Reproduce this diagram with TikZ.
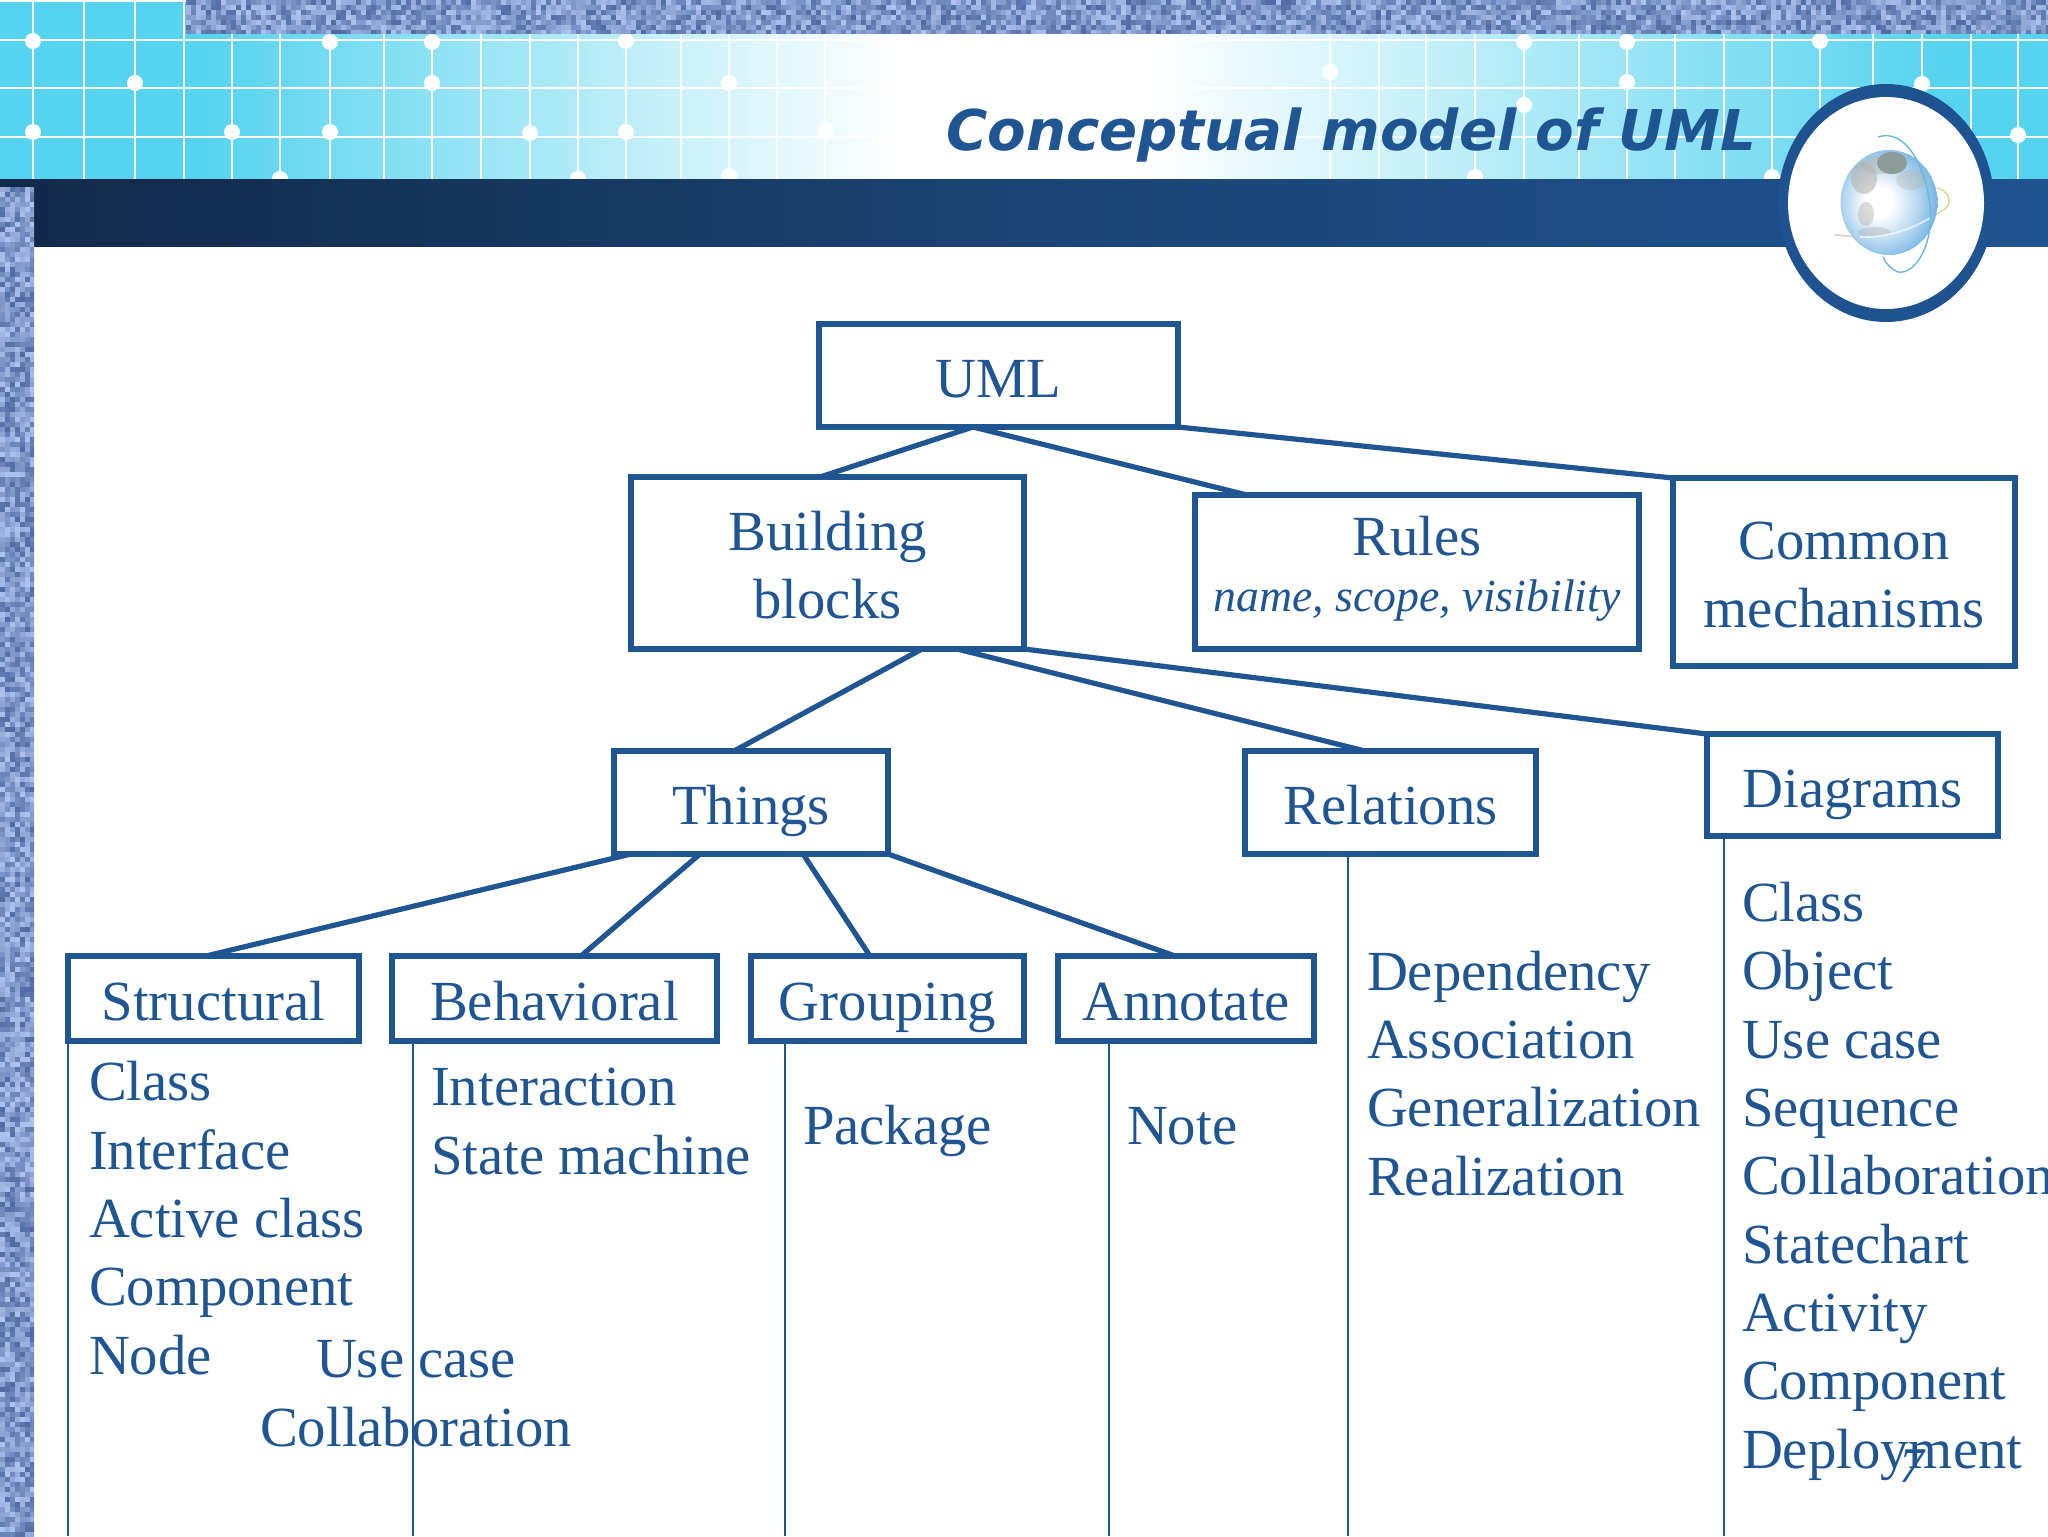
\documentclass[tikz,border=0pt]{standalone}
\usepackage{fontspec}
\setmainfont{Liberation Serif}
\newfontfamily\titlefont{DejaVu Sans}
\usetikzlibrary{calc}
\definecolor{blu}{HTML}{1F5592}
\definecolor{cy}{HTML}{55D3EF}
\definecolor{denim}{HTML}{7B97D5}
\definecolor{denimd}{HTML}{24417F}
\definecolor{deniml}{HTML}{B4C9F5}
\definecolor{barl}{HTML}{12294A}
\definecolor{barm}{HTML}{1A4474}
\definecolor{barr}{HTML}{1F5290}
\definecolor{sea}{HTML}{4F9FDC}
\definecolor{rim}{HTML}{66747E}
\definecolor{land}{HTML}{B5B0A8}
\definecolor{pole}{HTML}{8C9C98}
\definecolor{orb}{HTML}{6DB7D8}
\pgfdeclareradialshading{earth}{\pgfpoint{-6bp}{0bp}}{color(0bp)=(white); color(7bp)=(white); color(20bp)=(sea!45!white); color(34bp)=(sea); color(47bp)=(sea!70!rim); color(54bp)=(rim); color(60bp)=(rim)}
\tikzset{
  body/.style={font=\fontsize{28.35}{34.15}\selectfont,text=blu,inner sep=0pt,outer sep=0pt},
  box/.style={body,draw=blu,line width=2.6pt,align=center},
  one/.style={text height=25pt,text depth=2.6pt},
  lst/.style={body,align=left,anchor=base west},
  link/.style={draw=blu,line width=2.6pt},
  thin/.style={draw=blu,line width=1pt},
  grid/.style={draw=white,line width=.8pt},
  gridh/.style={draw=white,line width=1.3pt},
  dot/.style={fill=white},
}
\newcommand\bx[6]{%
  \pgfmathsetmacro\bxw{(#4-#2)*0.5}%
  \pgfmathsetmacro\bxh{(#5-#3)*0.5}%
  \node[box,minimum width=\bxw pt,minimum height=\bxh pt,#6] (#1) at ({(#2+#4)/2},{(#3+#5)/2})}
\begin{document}
\begin{tikzpicture}[x=0.5pt,y=-0.5pt]
\useasboundingbox (0,0) rectangle (2048,1536);
\fill[white] (0,0) rectangle (2048,1536);
% gradient panel
\fill[cy] (0,0) rectangle (200,180);
\shade[left color=cy,right color=white] (200,0) rectangle (900,180);
\shade[left color=white,right color=cy] (1150,34) rectangle (1950,180);
\fill[cy] (1950,34) rectangle (2048,180);
% grid
\foreach \gx in {33,84,135,184,232,280,330,384,432,481,530,578,626,681,729,777,825,1330,1379,1426,1475,1524,1579,1627,1675,1724,1772,1820,1873,1922,1971,2018}
  \draw[grid] (\gx,0) -- (\gx,179);
\foreach \gy in {40,88,137} \draw[gridh] (0,\gy) -- (2048,\gy);
\draw[gridh] (0,1) -- (186,1);
\foreach \dx/\dy in {33/41,330/42,432/42,626/41,135/83,432/83,729/83,33/132,232/132,330/132,530/133,626/132,825/131,280/179,578/179,729/176,1330/72,1524/42,1627/42,1820/41,1627/82,1524/105,1922/84,2018/135,1475/177,1772/177}
  \fill[dot] (\dx,\dy) circle[radius=4pt];
% dark bar
\fill[barl] (0,179) rectangle (34,187);
\shade[left color=barl,right color=barm] (34,179) rectangle (1024,246);
\shade[left color=barm,right color=barr] (1024,179) rectangle (2048,246);
% denim
\fill[denim] (186,0) rectangle (2048,34);
\fill[denim] (0,187) rectangle (34,1536);
\pgfmathsetseed{7}
\begin{scope}
\clip (186,0) rectangle (2048,34);
\foreach \cx in {186,191,...,2048}{
  \foreach \cy in {0,5,...,30}{
    \pgfmathtruncatemacro\sk{5+rnd*65}
    \fill[denimd!\sk!deniml] (\cx,\cy) rectangle ++(5,5);}}
\end{scope}
\begin{scope}
\clip (0,187) rectangle (34,1536);
\foreach \cx in {0,5,...,30}{
  \foreach \cy in {187,192,...,1536}{
    \pgfmathtruncatemacro\sk{5+rnd*65}
    \fill[denimd!\sk!deniml] (\cx,\cy) rectangle ++(5,5);}}
\end{scope}
% globe ring
\fill[barr] (1886,203) ellipse[x radius=108,y radius=119];
\fill[white] (1886,203) ellipse[x radius=98,y radius=106];
\draw[color=yellow!50!gray!60,line width=.8pt] (1937,188) .. controls (1948,190) and (1952,202) .. (1947,207) .. controls (1943,211) and (1939,213) .. (1935,215);
\draw[color=gray!35,line width=.8pt] (1835,235) -- (1860,237);
\begin{scope}
\clip (1889,202.5) ellipse[x radius=48.5,y radius=52.5];
\path[shading=earth] (1889,202.5) ellipse[x radius=48.5,y radius=52.5];
\fill[land,opacity=.55] (1864,178) ellipse[x radius=13,y radius=16];
\fill[land,opacity=.4] (1880,165) ellipse[x radius=20,y radius=9];
\fill[land,opacity=.45] (1866,214) ellipse[x radius=8,y radius=12];
\fill[land,opacity=.4] (1874,232) ellipse[x radius=16,y radius=5];
\fill[land,opacity=.35] (1911,180) ellipse[x radius=15,y radius=10];
\fill[pole] (1892,163) ellipse[x radius=15,y radius=11];
\draw[white,opacity=.7,line width=.8pt] (1860,237) .. controls (1885,238) and (1910,230) .. (1930,218);
\end{scope}
\draw[color=orb,line width=.7pt] (1878,137) .. controls (1905,128) and (1925,165) .. (1930,205) .. controls (1934,245) and (1915,275) .. (1898,272) .. controls (1892,270) and (1886,264) .. (1883,257);
% title
\node[inner sep=0pt,anchor=base west,text=blu] (title) at (946,150) {\titlefont\bfseries\itshape\fontsize{28.1}{32}\selectfont Conceptual model of UML};
% boxes
\bx{uml}{819}{324}{1178}{427}{one}{UML};
\bx{bb}{631}{477}{1024}{649}{}{\rule{0pt}{22pt}Building\\blocks};
\bx{rules}{1195}{495}{1639}{649}{}{Rules\\[-6.15pt]{\fontsize{22.9}{26}\selectfont\itshape name, scope, visibility}\rule[-8.5pt]{0pt}{0pt}};
\bx{common}{1673}{478}{2015}{666}{}{\rule{0pt}{22pt}Common\\mechanisms};
\bx{things}{614}{751}{888}{854}{one}{Things};
\bx{relations}{1245}{751}{1536}{854}{one}{Relations};
\bx{diagrams}{1707}{734}{1998}{836}{one}{Diagrams};
\bx{structural}{68}{956}{359}{1041}{one}{Structural};
\bx{behavioral}{392}{956}{717}{1041}{one}{Behavioral};
\bx{grouping}{751}{956}{1024}{1041}{one}{Grouping};
\bx{annotate}{1058}{956}{1314}{1041}{one}{Annotate};
% connectors
\draw[link] ($(uml.south west)+(154,0)$) -- ($(bb.north west)+(189,0)$);
\draw[link] ($(uml.south west)+(154,0)$) -- ($(rules.north west)+(52,0)$);
\draw[link] (uml.south east) -- (common.north west);
\draw[link] ($(bb.south west)+(291,0)$) -- ($(things.north west)+(120,0)$);
\draw[link] ($(bb.south west)+(326,0)$) -- ($(relations.north west)+(120,0)$);
\draw[link] (bb.south east) -- (diagrams.north west);
\draw[link] ($(things.south west)+(17,0)$) -- ($(structural.north west)+(138,0)$);
\draw[link] ($(things.south west)+(86,0)$) -- ($(behavioral.north west)+(189,0)$);
\draw[link] ($(things.south west)+(189,0)$) -- ($(grouping.north west)+(119,0)$);
\draw[link] (things.south east) -- ($(annotate.north west)+(117,0)$);
\coordinate (e1) at (68,1536);
\coordinate (e2) at (413,1536);
\coordinate (e3) at (785,1536);
\coordinate (e4) at (1109,1536);
\coordinate (e5) at (1348,1536);
\coordinate (e6) at (1724,1536);
\draw[thin] (structural.south west) -- (e1);
\draw[thin] ($(behavioral.south west)+(21,0)$) -- (e2);
\draw[thin] ($(grouping.south west)+(34,0)$) -- (e3);
\draw[thin] ($(annotate.south west)+(51,0)$) -- (e4);
\draw[thin] ($(relations.south west)+(103,0)$) -- (e5);
\draw[thin] ($(diagrams.south west)+(17,0)$) -- (e6);
% lists
\node[lst] (l1) at (89,1374) {Class\\Interface\\Active class\\Component\\Node};
\node[body,align=center,anchor=base] (l1b) at (416,1446) {Use case\\Collaboration};
\node[lst] (l2) at (431,1174) {Interaction\\State machine};
\node[lst] (l3) at (803,1144) {Package};
\node[lst] (l4) at (1127,1144) {Note};
\node[lst] (l5) at (1367,1195) {Dependency\\Association\\Generalization\\Realization};
\node[lst] (l6) at (1742,1468) {Class\\Object\\Use case\\Sequence\\Collaboration\\Statechart\\Activity\\Component\\Deployment};
\node[body,anchor=base] (num) at (1912,1482) {\fontsize{25}{28}\selectfont\itshape 7};
\end{tikzpicture}
\end{document}
